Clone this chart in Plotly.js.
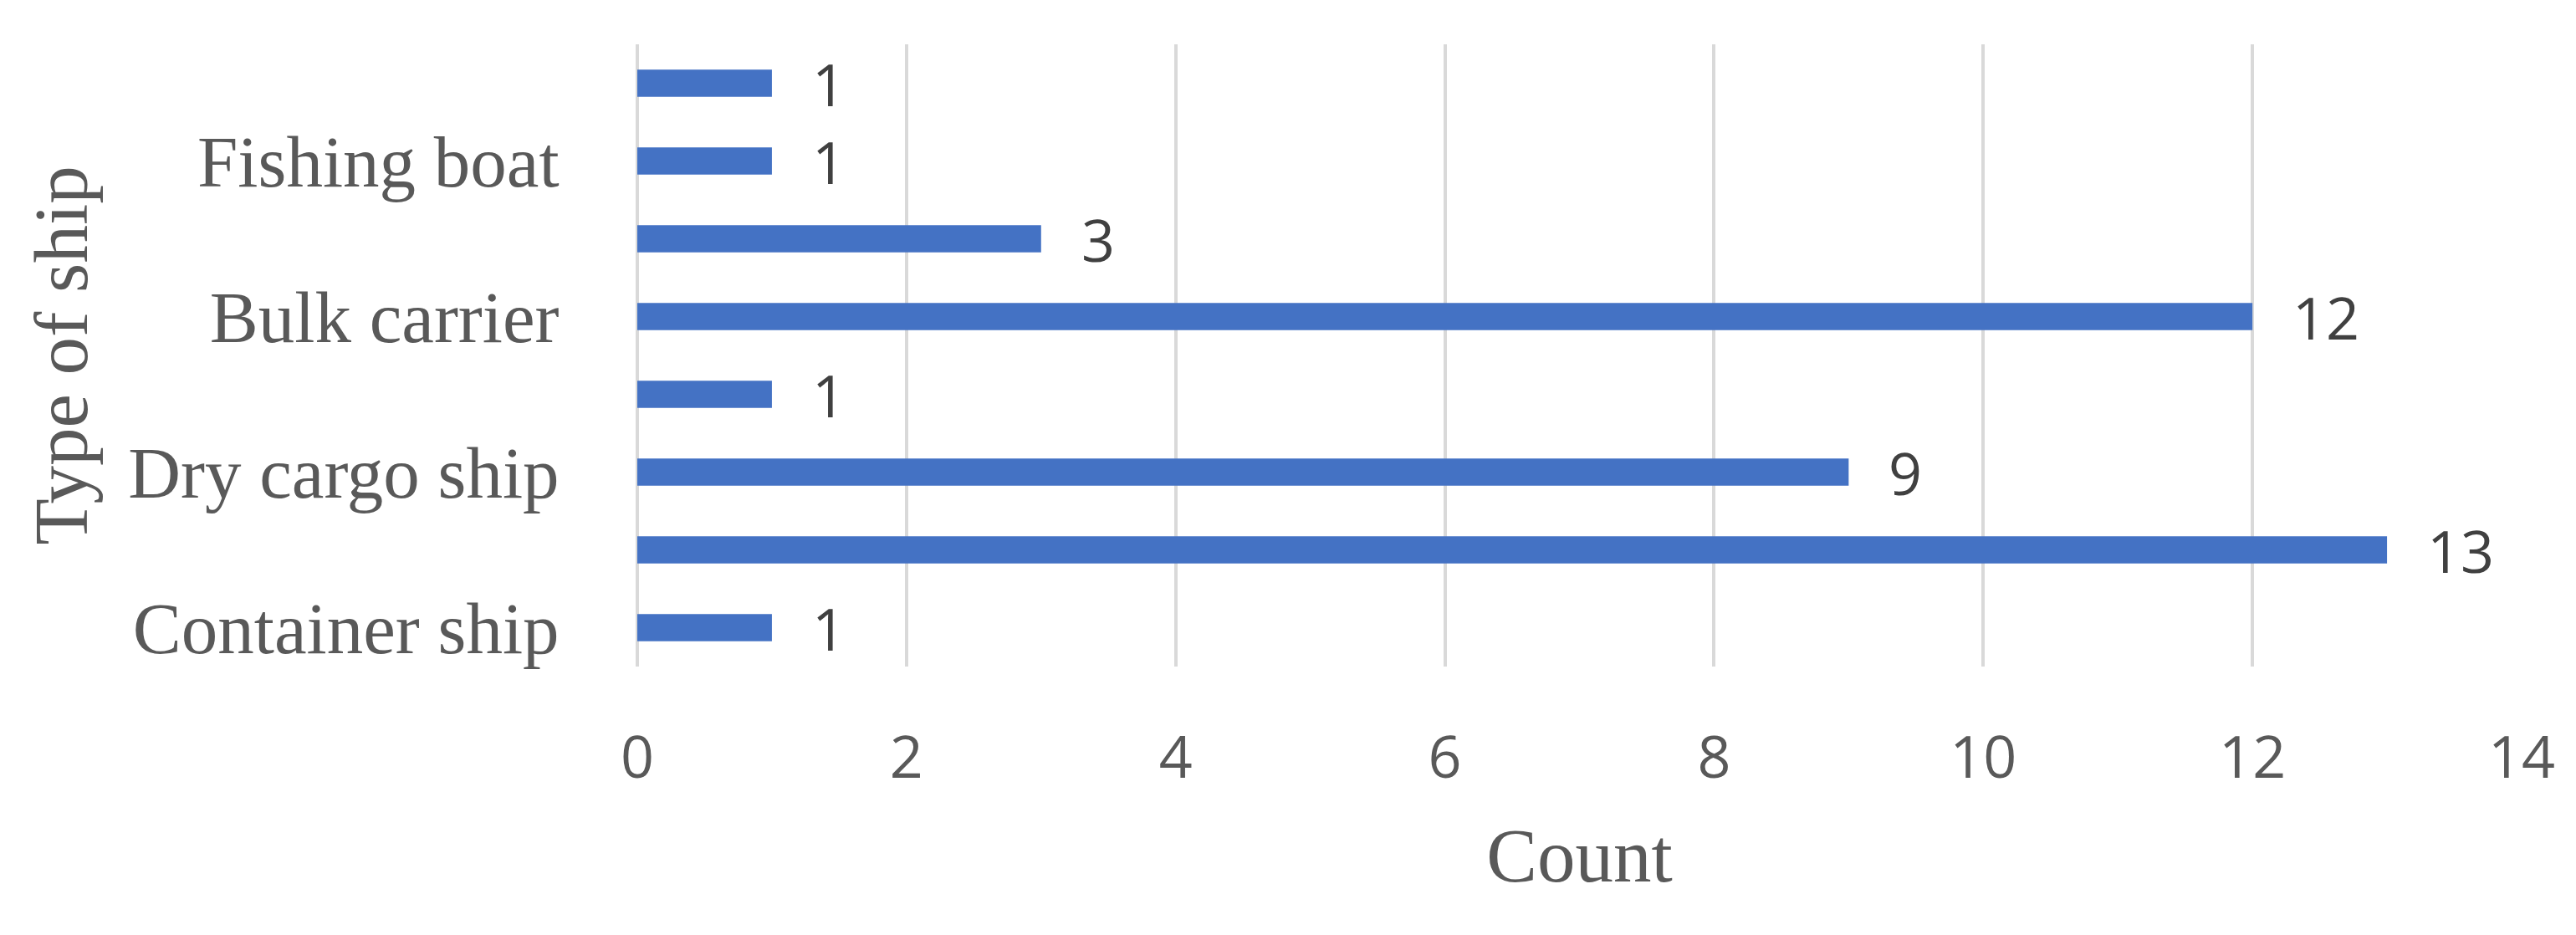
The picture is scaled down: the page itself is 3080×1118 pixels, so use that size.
<!DOCTYPE html>
<html>
<head>
<meta charset="utf-8">
<script src="https://cdn.plot.ly/plotly-3.0.1.min.js"></script>
<style>html,body{margin:0;padding:0;background:#fff;}#chart{width:3080px;height:1118px;}</style>
</head>
<body>
<div id="chart"></div>
<script>
// Categories from bottom to top; unlabeled categories are skipped by the original axis
const categoryLabels = ["Container ship", "", "Dry cargo ship", "", "Bulk carrier", "", "Fishing boat", ""];
const counts = [1, 13, 9, 1, 12, 3, 1, 1];
const xTickValues = [0, 2, 4, 6, 8, 10, 12, 14];

const positions = categoryLabels.map((_, i) => i);

const trace = {
  type: 'bar',
  orientation: 'h',
  x: counts,
  y: positions,
  marker: {color: '#4472C4'},
  width: 0.35,
  hoverinfo: 'x'
};

const annotations = counts.map((v, i) => ({
  x: v, y: positions[i], xref: 'x', yref: 'y',
  text: String(v), showarrow: false,
  xanchor: 'left', yanchor: 'middle', xshift: 46, yshift: 0,
  font: {family: 'Open Sans, sans-serif', size: 70, color: '#404040'}
}));

const layout = {
  width: 3080, height: 1118,
  margin: {l: 762, r: 65, t: 53, b: 321},
  paper_bgcolor: '#fff', plot_bgcolor: '#fff',
  showlegend: false,
  xaxis: {
    range: [0, 14],
    tickvals: xTickValues,
    ticktext: xTickValues.map(String),
    showgrid: true, gridcolor: '#D9D9D9', gridwidth: 4,
    zeroline: true, zerolinecolor: '#D9D9D9', zerolinewidth: 4,
    showline: false,
    ticks: 'outside', ticklen: 48, tickcolor: 'rgba(0,0,0,0)',
    tickfont: {family: 'Open Sans, sans-serif', size: 70, color: '#595959'},
    title: {text: 'Count', standoff: 40, font: {family: 'Liberation Serif, serif', size: 91, color: '#595959'}},
    fixedrange: true
  },
  yaxis: {
    range: [-0.5, 7.5],
    tickvals: positions,
    ticktext: categoryLabels,
    showgrid: false, zeroline: false, showline: false,
    ticks: 'outside', ticklen: 75, tickcolor: 'rgba(0,0,0,0)',
    tickfont: {family: 'Liberation Serif, serif', size: 87, color: '#595959'},
    title: {text: 'Type of ship', standoff: 18, font: {family: 'Liberation Serif, serif', size: 91, color: '#595959'}},
    fixedrange: true
  },
  annotations: annotations
};

Plotly.newPlot('chart', [trace], layout, {displayModeBar: false, staticPlot: true});
</script>
</body>
</html>
